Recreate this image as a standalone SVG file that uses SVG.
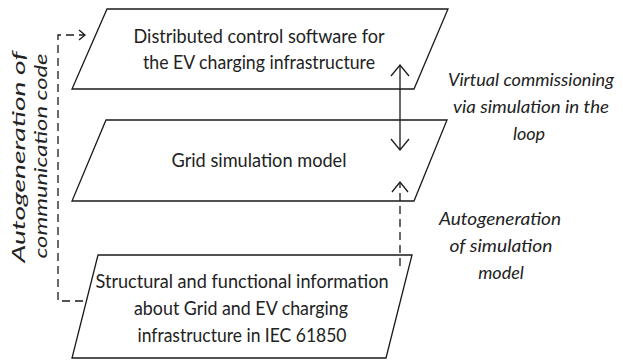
<svg xmlns="http://www.w3.org/2000/svg" width="623" height="363" viewBox="0 0 623 363">
  <style>
    .shape { fill: #ffffff; stroke: #1a1a1a; stroke-width: 1.3; }
    .label { font-family: Lato, "Liberation Sans", sans-serif; font-size: 19.5px; fill: #222222; text-anchor: middle; }
    .note { font-family: Lato, "Liberation Sans", sans-serif; font-size: 18px; font-style: italic; fill: #222222; text-anchor: middle; }
    .side { font-size: 16.5px; }
    .link { fill: none; stroke: #1a1a1a; stroke-width: 1.3; }
    .dash { stroke-dasharray: 8 5; }
  </style>
  <rect width="623" height="363" fill="#ffffff"/>

  <!-- upper layer: control software -->
  <g id="control-software">
    <polygon class="shape" points="107,9 448,9 414,89 72,89"/>
    <text class="label" x="259" y="43" textLength="251" lengthAdjust="spacingAndGlyphs">Distributed control software for</text>
    <text class="label" x="259" y="69" textLength="232" lengthAdjust="spacingAndGlyphs">the EV charging infrastructure</text>
  </g>

  <!-- middle layer: grid model -->
  <g id="grid-model">
    <polygon class="shape" points="106,120 447,120 414,201 72,201"/>
    <text class="label" x="259" y="167" textLength="175" lengthAdjust="spacingAndGlyphs">Grid simulation model</text>
  </g>

  <!-- lower layer: IEC 61850 description -->
  <g id="iec-information">
    <polygon class="shape" points="98,255 412,255 386,358 72,358"/>
    <text class="label" x="242" y="288" textLength="293" lengthAdjust="spacingAndGlyphs">Structural and functional information</text>
    <text class="label" x="241" y="315" textLength="214" lengthAdjust="spacingAndGlyphs">about Grid and EV charging</text>
    <text class="label" x="242" y="342" textLength="209" lengthAdjust="spacingAndGlyphs">infrastructure in IEC 61850</text>
  </g>

  <!-- side annotations -->
  <g id="label-virtual-commissioning">
    <text class="note" x="531" y="86" textLength="166" lengthAdjust="spacingAndGlyphs">Virtual commissioning</text>
    <text class="note" x="531" y="113" textLength="156" lengthAdjust="spacingAndGlyphs">via simulation in the</text>
    <text class="note" x="529" y="140">loop</text>
  </g>
  <g id="label-simulation-autogen">
    <text class="note" x="500" y="225" textLength="122" lengthAdjust="spacingAndGlyphs">Autogeneration</text>
    <text class="note" x="501" y="252" textLength="103" lengthAdjust="spacingAndGlyphs">of simulation</text>
    <text class="note" x="501" y="279">model</text>
  </g>
  <g id="label-code-autogen">
    <text class="note side" transform="translate(25,157) rotate(-90)" textLength="211" lengthAdjust="spacingAndGlyphs">Autogeneration of</text>
    <text class="note side" transform="translate(47,156) rotate(-90)" textLength="205" lengthAdjust="spacingAndGlyphs">communication code</text>
  </g>

  <!-- connectors -->
  <g id="connectors">
    <!-- co-simulation link between software and grid model -->
    <line class="link" x1="400" y1="66" x2="400" y2="149"/>
    <polyline class="link" points="391,76 400,65 409,76"/>
    <polyline class="link" points="391,139 400,150 409,139"/>
    <!-- model generation from IEC 61850 data -->
    <line class="link dash" x1="400" y1="266" x2="400" y2="183"/>
    <polyline class="link" points="392,192 400,182 408,192"/>
    <!-- code generation from IEC 61850 data -->
    <polyline class="link dash" points="83,301 58,301 58,35 84,35"/>
    <polyline class="link" points="79,30 85,35 79,40"/>
  </g>
</svg>
